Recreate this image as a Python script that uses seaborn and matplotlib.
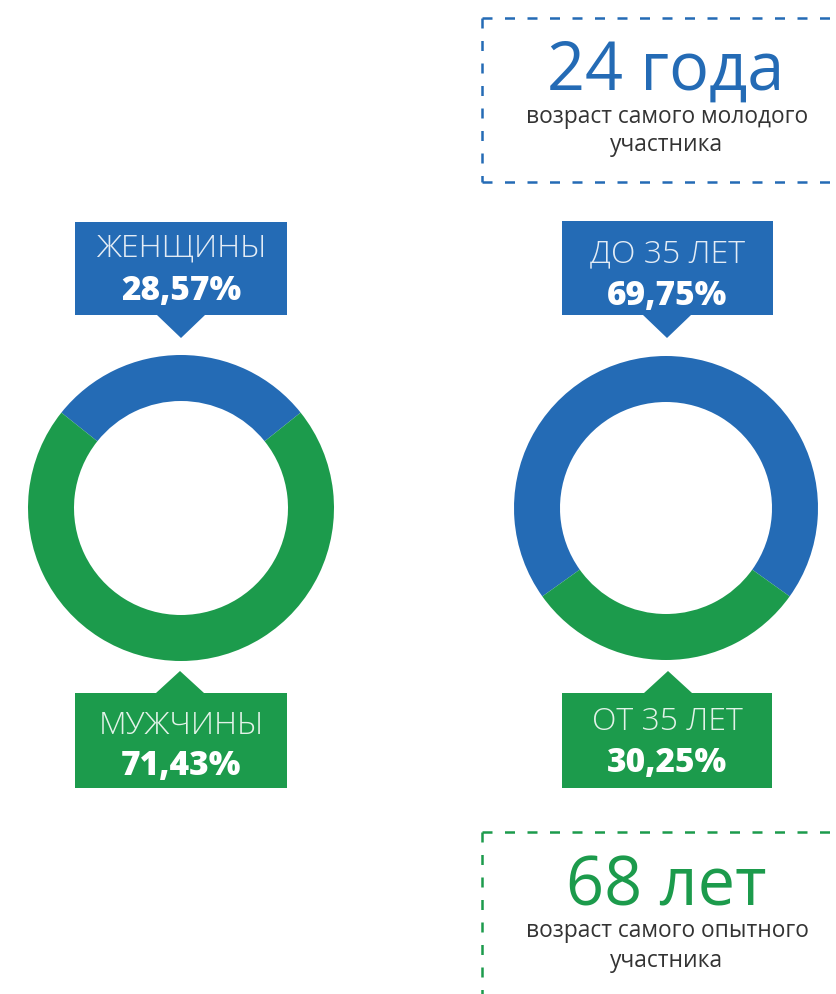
import matplotlib
matplotlib.use("Agg")
import matplotlib.pyplot as plt
import seaborn as sns
from matplotlib.patches import Rectangle, Polygon
from matplotlib.lines import Line2D

# ---- data ----
gender_labels = ["ЖЕНЩИНЫ", "МУЖЧИНЫ"]
gender_values = [28.57, 71.43]
gender_pct = ["28,57%", "71,43%"]
age_labels = ["ДО 35 ЛЕТ", "ОТ 35 ЛЕТ"]
age_values = [69.75, 30.25]
age_pct = ["69,75%", "30,25%"]
youngest_title = "24 года"
youngest_sub = ["возраст самого молодого", "участника"]
oldest_title = "68 лет"
oldest_sub = ["возраст самого опытного", "участника"]

sns.set_theme(style="white")
plt.rcParams['font.family'] = ['Open Sans', 'DejaVu Sans']
palette = sns.color_palette(["#246bb5", "#1c9b4c"])
BLUE, GREEN = palette[0], palette[1]
DARK = "#333333"
LIGHT = (1, 1, 1, 0.88)

W, H = 836, 994
fig = plt.figure(figsize=(W / 100, H / 100), dpi=100)
ax = fig.add_axes([0, 0, 1, 1])

def Y(py):
    return H - py

R_OUT, WIDTH = 153, 46

# left donut: women (blue) centered at top
ang = gender_values[0] * 3.6
ax.pie(gender_values, colors=[BLUE, GREEN], startangle=90 - ang / 2,
       counterclock=True, radius=R_OUT, center=(181, Y(508)),
       wedgeprops=dict(width=WIDTH, linewidth=0))
# right donut: under 35 (blue) centered at top
ang = age_values[0] * 3.6
ax.pie(age_values, colors=[BLUE, GREEN], startangle=90 - ang / 2,
       counterclock=True, radius=152, center=(666, Y(508)),
       wedgeprops=dict(width=WIDTH, linewidth=0))

def callout(x0, x1, y0, y1, cx, tip, color, down):
    ax.add_patch(Rectangle((x0, Y(y1)), x1 - x0, y1 - y0, facecolor=color,
                           edgecolor="none", zorder=3))
    base = y1 if down else y0
    ax.add_patch(Polygon([(cx - 24, Y(base)), (cx + 24, Y(base)), (cx, Y(tip))],
                         closed=True, facecolor=color, edgecolor="none", zorder=3))

callout(75, 287, 222, 315, 181, 338, BLUE, True)
callout(75, 287, 693, 788, 180, 671, GREEN, False)
callout(562, 773, 221, 315, 667, 338, BLUE, True)
callout(562, 772, 693, 788, 668, 671, GREEN, False)

def label(cx, by1, by2, name, pct):
    ax.text(cx, Y(by1), name, ha="center", va="baseline", fontsize=23,
            fontweight="light", color=LIGHT, zorder=4)
    ax.text(cx, Y(by2), pct, ha="center", va="baseline", fontsize=24,
            fontweight="heavy", color="white", zorder=4)

label(181, 257, 300, gender_labels[0], gender_pct[0])
label(181, 734, 775, gender_labels[1], gender_pct[1])
label(667, 262, 305, age_labels[0], age_pct[0])
label(667, 730, 772, age_labels[1], age_pct[1])

# dashed boxes
dash_kw = dict(linewidth=1.8, dashes=(4, 5), solid_capstyle="butt")
ax.add_line(Line2D([482, 845], [Y(18), Y(18)], color=BLUE, **dash_kw))
ax.add_line(Line2D([482, 845], [Y(182), Y(182)], color=BLUE, **dash_kw))
ax.add_line(Line2D([482, 482], [Y(18), Y(182)], color=BLUE, **dash_kw))
ax.add_line(Line2D([482, 845], [Y(832), Y(832)], color=GREEN, **dash_kw))
ax.add_line(Line2D([482, 482], [Y(832), Y(1000)], color=GREEN, **dash_kw))

ax.text(666, Y(90), youngest_title, ha="center", va="baseline", fontsize=48,
        color=BLUE)
ax.text(667, Y(123), youngest_sub[0], ha="center", va="baseline", fontsize=16.4,
        color=DARK)
ax.text(667, Y(151), youngest_sub[1], ha="center", va="baseline", fontsize=16.4,
        color=DARK)
ax.text(666, Y(905), oldest_title, ha="center", va="baseline", fontsize=48,
        color=GREEN)
ax.text(667, Y(937), oldest_sub[0], ha="center", va="baseline", fontsize=16.4,
        color=DARK)
ax.text(667, Y(967), oldest_sub[1], ha="center", va="baseline", fontsize=16.4,
        color=DARK)

ax.set_xlim(0, W)
ax.set_ylim(0, H)
ax.set_aspect("equal")
ax.axis("off")
fig.savefig("out.png", dpi=100, facecolor="white")
